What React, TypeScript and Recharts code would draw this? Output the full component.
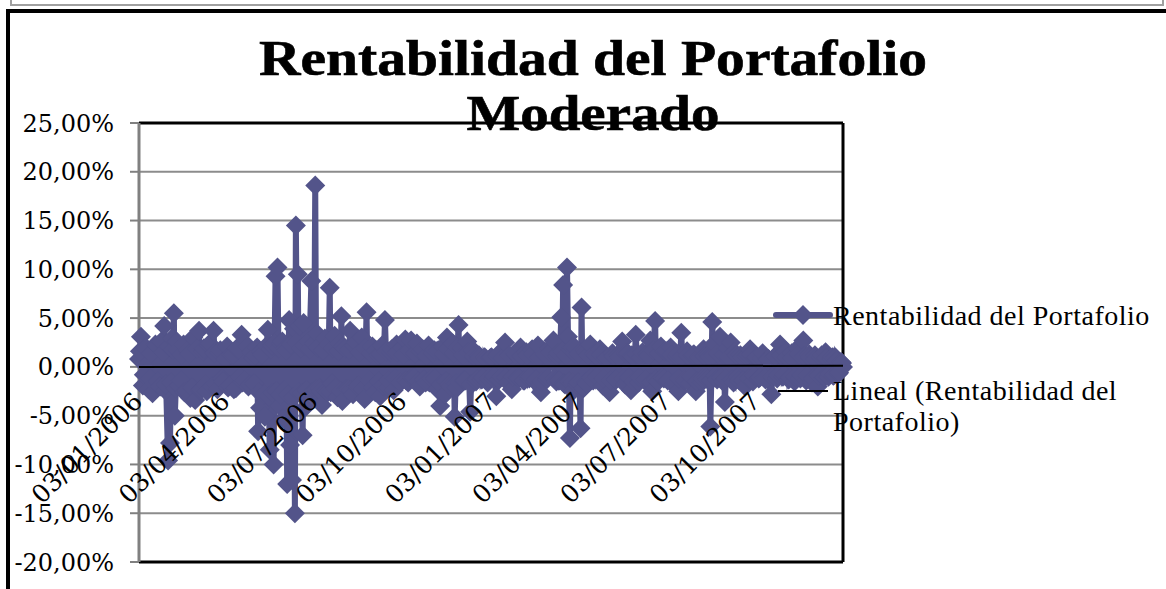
import {
  LineChart,
  Line,
  XAxis,
  YAxis,
  CartesianGrid,
  ReferenceLine,
  Legend,
} from "recharts";

const TITLE_LINES = ["Rentabilidad del Portafolio", "Moderado"];
const SERIES_NAME = "Rentabilidad del Portafolio";
const TREND_NAME = "Lineal (Rentabilidad del Portafolio)";
const SERIES_COLOR = "#53548a";
const SERIF = "'Liberation Serif', serif";
const NUM_FONT = "'DejaVu Serif', serif";

// days since 03/01/2006
const tickDays = [0, 90, 181, 273, 365, 455, 546, 638];
const tickLabels = [
  "03/01/2006",
  "03/04/2006",
  "03/07/2006",
  "03/10/2006",
  "03/01/2007",
  "03/04/2007",
  "03/07/2007",
  "03/10/2007",
];
const yTicks = [-20, -15, -10, -5, 0, 5, 10, 15, 20, 25];

// the days that stick out of the band
const days = [
  0, 2, 5, 8, 11, 14, 17, 20, 23, 26, 28, 30, 32, 34, 36, 37, 39, 41, 44, 47,
  50, 53, 56, 58, 62, 64, 67, 70, 73, 77, 80, 83, 86, 89, 92, 95, 98, 101, 104, 106,
  109, 112, 115, 118, 120, 123, 125, 127, 130, 133, 135, 137, 139, 141, 143, 145, 147, 149, 151, 153,
  155, 156, 158, 160, 161, 162, 164, 166, 169, 170, 172, 175, 178, 180, 182, 184, 187, 189, 192, 195,
  197, 199, 202, 205, 207, 209, 210, 213, 216, 218, 221, 224, 227, 230, 233, 235, 238, 241, 244, 247,
  249, 251, 254, 257, 260, 263, 266, 269, 272, 275, 278, 281, 284, 287, 290, 293, 296, 299, 302, 305,
  308, 311, 314, 316, 318, 321, 324, 326, 328, 330, 333, 336, 339, 342, 345, 348, 351, 354, 357, 360,
  363, 366, 369, 371, 374, 378, 381, 385, 388, 391, 394, 397, 400, 403, 406, 409, 412, 414, 415, 418,
  421, 424, 428, 431, 433, 436, 438, 440, 442, 443, 445, 447, 449, 451, 453, 456, 457, 459, 461, 463,
  466, 469, 472, 476, 479, 482, 486, 489, 492, 495, 499, 502, 505, 508, 510, 513, 516, 519, 522, 525,
  528, 530, 533, 536, 539, 542, 545, 549, 552, 555, 557, 560, 563, 566, 569, 572, 575, 578, 581, 583,
  586, 588, 590, 592, 594, 597, 600, 603, 605, 608, 611, 614, 617, 620, 623, 626, 629, 631, 634, 637,
  640, 643, 646, 649, 653, 656, 659, 662, 665, 668, 671, 674, 677, 680, 683, 686, 689, 692, 695, 698,
  701, 704, 707, 709, 712, 715, 717, 719, 722, 725, 727,
];

const returns = [
  0.8, 3.1, -0.8, 1.8, -1.2, -2.7, 2.3, -1.5, 2.6, 4.2, -1.8, -9.6, -7.8, 2.9, 5.5, -5.0, 2.6, -1.9, 1.2, -2.6,
  1.7, -3.2, 3.0, -3.4, 3.7, -2.3, 1.9, -2.5, 2.4, 3.7, -1.8, 1.4, -1.2, 0.8, -2.1, 1.3, -2.3, 1.9, -1.0, 3.3,
  -1.4, 2.1, -1.8, 0.9, 1.2, -6.6, -4.2, 1.3, -5.1, 3.8, -8.5, 2.2, -10.0, 9.3, 10.2, -4.0, 2.4, -5.3, 1.9, -12.0,
  4.8, -8.0, -11.6, 3.9, -15.0, 14.5, 9.5, 4.2, -7.0, 4.5, -4.1, 2.6, 8.8, -2.9, 18.6, 3.4, -2.2, -3.9, 2.9, -2.6,
  8.1, -1.7, 3.2, -3.1, 2.4, 5.2, -3.5, 1.9, -2.3, 3.7, -2.8, 2.5, -1.9, 3.0, -3.3, 5.6, -1.4, 2.1, -2.6, 1.2,
  -3.0, 2.2, 4.8, -2.1, 1.5, -2.4, 2.3, -1.3, 1.9, 2.8, -1.6, 2.7, -1.1, 2.4, -2.0, 1.8, -1.6, 2.2, -1.2, 1.7,
  -2.3, -4.0, 2.1, -2.8, 3.0, -1.7, 2.4, -5.1, -2.2, 4.3, 1.9, -1.4, 2.6, -4.6, 1.7, -1.5, 1.2, -1.3, 1.0, -1.6,
  0.9, -1.2, -3.0, 1.3, -1.0, 2.5, -1.6, -2.3, 1.4, -1.1, 2.0, -1.4, 1.5, -1.2, 1.8, -1.5, 2.2, -1.9, -2.6, 1.6,
  -1.3, 1.9, 2.7, -1.5, 1.4, 5.1, 8.4, -1.8, 10.2, 3.1, -7.3, 2.0, -2.4, 1.9, -1.6, -6.3, 6.1, -2.2, 1.5, -1.7,
  2.3, -1.4, 1.2, 1.8, -1.9, 1.1, -2.6, 1.4, -1.3, 1.2, 2.6, -1.8, 1.4, -2.4, 1.1, 3.3, -1.6, 1.0, -1.4, 1.3,
  2.7, -2.5, 4.7, -1.5, 2.1, -1.2, 1.6, 2.0, -1.8, 1.1, -2.5, 3.5, -1.3, 1.6, -1.7, 1.2, -2.5, 1.0, -1.6, 1.8,
  -1.1, 1.2, -6.1, 4.6, 2.4, -1.3, 3.1, -1.5, -3.6, 1.9, 2.5, -1.6, 1.2, -1.4, 1.0, -2.0, 1.3, 1.8, -1.5, 1.0,
  -1.2, 0.9, -1.1, 0.8, -2.8, 1.0, -1.2, 2.3, -1.0, 1.6, -1.3, 1.4, -1.5, 1.9, -1.2, 2.7, -1.4, 1.3, -1.6, 1.2,
  -2.0, 1.0, -1.1, 1.5, -1.0, 0.8, -0.9, 1.0, -0.7, 0.5, 0.0,
];

// the ordinary days in between, which make up the solid band
const bandDays = [
  1, 4, 7, 10, 13, 16, 19, 22, 25, 27, 31, 33, 35, 38, 40, 43, 46, 49, 52, 55,
  60, 63, 66, 69, 72, 75, 78, 81, 84, 87, 91, 94, 97, 100, 103, 107, 110, 113, 116, 119,
  122, 124, 126, 129, 132, 134, 136, 138, 140, 142, 144, 146, 148, 150, 152, 154, 157, 159, 163, 165,
  167, 168, 171, 173, 176, 179, 181, 183, 185, 188, 190, 193, 196, 198, 200, 203, 206, 208, 211, 214,
  217, 219, 222, 225, 228, 231, 234, 236, 239, 242, 245, 248, 250, 252, 255, 258, 261, 264, 267, 270,
  273, 276, 279, 282, 285, 288, 291, 294, 297, 300, 303, 306, 309, 312, 315, 317, 319, 322, 325, 327,
  329, 331, 334, 337, 340, 343, 346, 349, 352, 355, 358, 361, 364, 367, 370, 372, 375, 379, 382, 386,
  389, 392, 395, 398, 401, 404, 407, 410, 413, 416, 419, 422, 425, 429, 432, 434, 437, 439, 441, 444,
  446, 448, 450, 452, 454, 458, 460, 462, 464, 467, 470, 473, 477, 480, 483, 487, 490, 493, 496, 500,
  503, 506, 509, 511, 514, 517, 520, 523, 526, 529, 531, 534, 537, 540, 543, 546, 550, 553, 556, 558,
  561, 564, 567, 570, 573, 576, 579, 582, 584, 587, 589, 591, 593, 595, 598, 601, 604, 606, 609, 612,
  615, 618, 621, 624, 627, 630, 632, 635, 638, 641, 644, 647, 650, 654, 657, 660, 663, 666, 669, 672,
  675, 678, 681, 684, 687, 690, 693, 696, 699, 702, 705, 708, 710, 713, 716, 718, 720, 723, 726,
];

const bandReturns = [
  1.6, -1.9, 2.0, -2.3, 1.4, -1.7, 2.2, -2.0, 1.5, -2.4, 2.1, -1.6, 1.8, -2.2, 1.7, -1.4, 2.3, -2.5, 1.3, -2.1,
  1.9, -2.4, 1.6, -1.8, 2.2, -2.0, 1.4, -2.3, 1.7, -1.5, 2.1, -1.9, 1.3, -2.2, 1.8, -1.6, 2.4, -2.0, 1.5, -1.7,
  2.0, -2.6, 1.6, -2.8, 2.2, -3.0, 1.8, -2.7, 2.4, -2.5, 1.9, -2.9, 2.6, -2.4, 1.7, -2.8, 2.3, -3.1, 2.5, -2.6,
  1.9, -2.7, 2.2, -2.4, 1.8, -2.6, 2.4, -2.3, 2.0, -2.5, 1.7, -2.4, 2.3, -2.6, 1.9, -2.2, 1.6, -2.5, 2.1, -2.3,
  1.8, -2.4, 2.2, -2.0, 1.5, -2.3, 1.9, -1.8, 1.4, -2.1, 1.7, -1.5, 1.3, -1.9, 1.6, -1.4, 1.8, -1.2, 1.5, -1.6,
  1.2, -1.4, 1.7, -1.1, 1.4, -1.5, 1.6, -1.3, 1.1, -1.6, 1.4, -1.2, 1.7, -1.8, 1.3, -1.5, 1.9, -2.0, 1.4, -1.7,
  2.0, -1.6, 1.2, -1.4, 1.5, -1.8, 1.1, -1.3, 0.9, -1.1, 0.8, -1.2, 1.0, -0.9, 1.1, -1.3, 0.9, -1.1, 1.2, -1.0,
  1.3, -1.2, 1.1, -1.4, 1.2, -1.0, 1.4, -1.3, 1.0, -1.5, 1.3, -1.1, 1.5, -1.2, 1.1, -1.4, 1.6, -1.7, 1.2, -1.5,
  1.8, -1.6, 1.4, -1.8, 1.3, -1.5, 1.7, -1.6, 1.2, -1.1, 1.4, -1.0, 1.3, -1.2, 0.9, -1.4, 1.1, -1.3, 1.0, -1.2,
  1.4, -1.1, 1.2, -1.5, 1.3, -1.0, 1.5, -1.3, 1.1, -1.6, 1.7, -1.3, 1.4, -1.1, 1.6, -1.4, 1.2, -1.5, 1.3, -1.2,
  1.1, -1.4, 1.2, -1.0, 1.3, -1.5, 0.9, -1.2, 1.1, -1.3, 1.0, -1.4, 1.2, -0.9, 1.4, -1.1, 1.3, -1.2, 1.0, -1.3,
  1.5, -1.0, 1.2, -1.4, 1.1, -1.2, 1.3, -0.9, 1.0, -1.1, 1.4, -1.3, 0.8, -1.0, 1.1, -0.9, 1.2, -0.8, 1.0, -1.1,
  0.9, -1.0, 1.3, -0.8, 1.1, -0.9, 1.0, -1.2, 0.8, -0.9, 1.2, -1.0, 0.9, -0.7, 1.0, -0.8, 0.6, -0.6, 0.4,
];

const trendEnds: Record<number, number> = { 0: -0.02, 727: 0.12 };

const chartData = [
  ...days.map((day, i) => ({ day, value: returns[i], trend: trendEnds[day] })),
  ...bandDays.map((day, i) => ({ day, value: bandReturns[i], trend: trendEnds[day] })),
].sort((a, b) => a.day - b.day);

const percent = (v: number) => `${v},00%`;

const DateTick = ({ x, y, payload }: any) => (
  <text
    transform={`translate(${x + 5}, ${y - 167}) rotate(-45)`}
    textAnchor="end"
    fontFamily={NUM_FONT}
    fontSize={25}
    fill="#000"
  >
    {tickLabels[tickDays.indexOf(payload.value)]}
  </text>
);

const LegendBox = () => (
  <div style={{ position: "relative", width: 333, height: 130, fontFamily: SERIF, fontSize: 28, letterSpacing: 0.5, color: "#000" }}>
    <svg width={60} height={100} style={{ position: "absolute", left: -60, top: 0, overflow: "visible" }}>
      <line x1={3} y1={16} x2={57} y2={16} stroke={SERIES_COLOR} strokeWidth={6} strokeLinecap="round" />
      <path d="M30 6 L40 16 L30 26 L20 16 Z" fill={SERIES_COLOR} />
      <line x1={5} y1={92} x2={55} y2={92} stroke="#000" strokeWidth={2} />
    </svg>
    <div style={{ position: "absolute", left: 0, top: 0, lineHeight: "33px", whiteSpace: "nowrap" }}>{SERIES_NAME}</div>
    <div style={{ position: "absolute", left: 0, top: 76, lineHeight: "31px", width: 310 }}>{TREND_NAME}</div>
  </div>
);

export default function App() {
  return (
    <div style={{ position: "absolute", left: 0, top: 0, width: 1166, height: 589, overflow: "hidden", background: "#fff" }}>
      <div style={{ position: "absolute", left: 10, top: -4, width: 1150, height: 8, border: "solid #a0a0a0", borderWidth: "0 2px 2px 2px" }} />
      <div style={{ position: "absolute", left: 6, top: 9, width: 1170, height: 600, border: "4px solid #000" }} />
      <LineChart
        width={1166}
        height={589}
        data={chartData}
        margin={{ top: 123, right: 323, bottom: 26, left: 59 }}
        style={{ position: "absolute", left: 0, top: 0 }}
      >
        <text x={593} y={75} textAnchor="middle" fontFamily={SERIF} fontWeight="bold" fontSize={50} fill="#000" stroke="#000" strokeWidth={0.6} textLength={668} lengthAdjust="spacingAndGlyphs">
          {TITLE_LINES[0]}
        </text>
        <text x={593} y={130} textAnchor="middle" fontFamily={SERIF} fontWeight="bold" fontSize={50} fill="#000" stroke="#000" strokeWidth={0.6} textLength={253} lengthAdjust="spacingAndGlyphs">
          {TITLE_LINES[1]}
        </text>
        <CartesianGrid vertical={false} stroke="#8c8c8c" strokeWidth={2} />
        <XAxis
          dataKey="day"
          type="number"
          domain={[0, 727]}
          ticks={tickDays}
          height={1}
          axisLine={false}
          tickLine={false}
          interval={0}
          tick={<DateTick />}
          zIndex={2000}
        />
        <YAxis
          width={80}
          domain={[-20, 25]}
          ticks={yTicks}
          interval={0}
          tickFormatter={percent}
          axisLine={{ stroke: "#808080", strokeWidth: 3 }}
          tickLine={{ stroke: "#808080", strokeWidth: 2 }}
          tickSize={9}
          tickMargin={16}
          tick={{ fontFamily: NUM_FONT, fontSize: 24, fill: "#000" }}
        />
        <ReferenceLine y={25} stroke="#000" strokeWidth={3} />
        <ReferenceLine y={-20} stroke="#000" strokeWidth={3} />
        <ReferenceLine x={727} stroke="#000" strokeWidth={3} />
        <Line
          dataKey="value"
          name={SERIES_NAME}
          stroke={SERIES_COLOR}
          strokeWidth={6}
          dot={({ cx, cy, index }: any) => (
            <path key={index} d={`M${cx} ${cy - 10} L${cx + 10} ${cy} L${cx} ${cy + 10} L${cx - 10} ${cy} Z`} fill={SERIES_COLOR} />
          )}
          isAnimationActive={false}
        />
        <Line
          dataKey="trend"
          name={TREND_NAME}
          stroke="#000"
          strokeWidth={2}
          dot={false}
          connectNulls
          isAnimationActive={false}
          zIndex={1500}
        />
        <Legend
          layout="horizontal"
          align="center"
          verticalAlign="middle"
          wrapperStyle={{ left: 833, top: 299, width: 333 }}
          content={<LegendBox />}
        />
      </LineChart>
    </div>
  );
}
